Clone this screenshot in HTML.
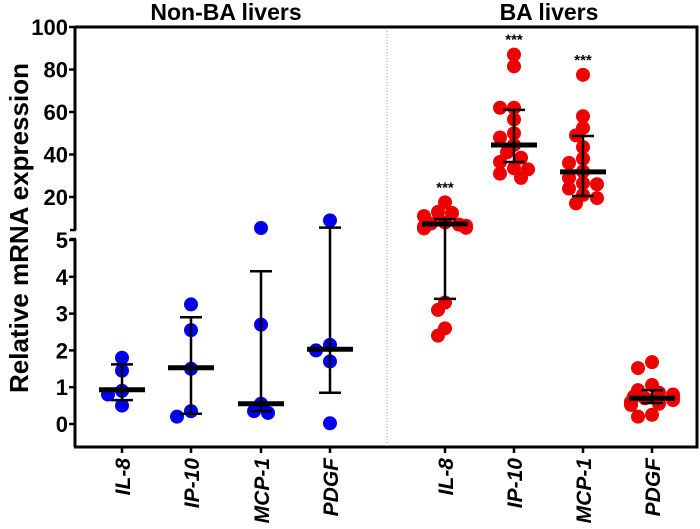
<!DOCTYPE html>
<html><head><meta charset="utf-8"><style>
body{margin:0;background:#fff;width:700px;height:524px;overflow:hidden}
svg text{font-family:"Liberation Sans",Arial,sans-serif;font-weight:bold}
</style></head><body>
<svg id="chart" width="700" height="524" xmlns="http://www.w3.org/2000/svg">
<g id="frame"></g>
<g id="marks"></g>
</svg>
<script>
const categories=["IL-8","IP-10","MCP-1","PDGF"];
const groupLabels=["Non-BA livers","BA livers"];
const nonBA=[[1.8,1.45,0.9,0.8,0.5],[3.25,2.55,1.5,0.2,0.35],[5.4,2.7,0.55,0.3,0.35],[9,2.0,2.15,1.7,0.02]];
const nonBAMedian=[0.93,1.53,0.55,2.03];
const nonBALow=[0.65,0.28,0.35,0.85];
const nonBAHigh=[1.62,2.9,4.15,5.6];
const ba=[[17.5,13,12.5,11,8,7.5,7,6.5,6,5.5,5.2,3.3,3.1,2.6,2.4],
[87,81.5,62,62,56.5,50,48,44.5,41,38.5,36.5,33.5,33,31,29],
[77.5,58,52.5,49,43.5,36,32,29,26.5,26,21,19.5,17,24,38],
[1.68,1.52,1.06,0.92,0.8,0.73,0.65,0.6,0.52,0.7,0.75,0.85,0.25,0.2,0.55]];
const baMedian=[7.3,44.5,31.8,0.7];
const baLow=[3.4,36.5,20.5,0.57];
const baHigh=[9.6,61,48.7,0.92];
const starsFor=[true,true,true,false];
const upperTicks=[100,80,60,40,20];
const lowerTicks=[5,4,3,2,1,0];
const xNon=[122,191,261,330], xBA=[445,514,583,652];
const NS="http://www.w3.org/2000/svg";
function y(v){ return v>=5 ? 27+(100-v)*2.125 : 424-v*36.8; }
function mk(parent,tag,attrs,txt){const e=document.createElementNS(NS,tag);for(const k in attrs)e.setAttribute(k,attrs[k]);if(txt!==undefined)e.textContent=txt;parent.appendChild(e);return e;}
const F=document.getElementById('frame'), M=document.getElementById('marks');
let e;
e=mk(F,'line',{x1:75,y1:27,x2:75,y2:230,stroke:'#000','stroke-width':3});


e=mk(F,'line',{x1:75,y1:239,x2:75,y2:447,stroke:'#000','stroke-width':3});


e=mk(F,'polyline',{points:'75,27 697,27 697,447 74,447',fill:'none',stroke:'#000','stroke-width':3});


e=mk(F,'line',{x1:387,y1:28,x2:387,y2:446,stroke:'#999','stroke-width':1,'stroke-dasharray':'1,2'});


mk(F,'line',{x1:70,y1:230,x2:76,y2:230,stroke:'#000','stroke-width':2.5});
mk(F,'line',{x1:70,y1:239,x2:76,y2:239,stroke:'#000','stroke-width':2.5});
upperTicks.concat(lowerTicks).forEach((t,i)=>{
  const yy = i<upperTicks.length ? 27+(100-t)*2.125 : 424-t*36.8;
  mk(F,'line',{x1:69,y1:yy,x2:75,y2:yy,stroke:'#000','stroke-width':2.5});
  e=mk(F,'text',{x:68,y:yy+8,'text-anchor':'end','font-size':22},t);
  
  
});
e=mk(F,'text',{x:0,y:0,'text-anchor':'middle','font-size':26,transform:'translate(28,228) rotate(-90)'},'Relative mRNA expression');


e=mk(F,'text',{x:226,y:20,'text-anchor':'middle','font-size':23},groupLabels[0]);


e=mk(F,'text',{x:549,y:20,'text-anchor':'middle','font-size':23},groupLabels[1]);


xNon.concat(xBA).forEach((x,i)=>{
  mk(F,'line',{x1:x,y1:447,x2:x,y2:453,stroke:'#000','stroke-width':2.5});
  e=mk(F,'text',{x:0,y:0,'text-anchor':'end','font-size':21,'font-style':'italic',transform:`translate(${x+8},458) rotate(-90)`},categories[i%4]);
  
  
});
function drawGroup(cx,vals,med,lo,hi,color,stars,name){
  const placed=[];
  vals.slice().sort((a,b)=>b-a).forEach(v=>{
    const yy=y(v); let off=0;
    const cands=[0,-7,7,-14,14,-21,21];
    let found=false;
    for(const c of cands){ if(placed.every(p=>Math.hypot(p[0]-c,p[1]-yy)>=10)){off=c;found=true;break;} }
    if(!found){off=(placed.length%2?1:-1)*Math.min(21,placed.length*3);}
    placed.push([off,yy]);
    const d=mk(M,'circle',{cx:cx+off,cy:yy,r:7,fill:color});
    
    
  });
  let l=mk(M,'line',{x1:cx,y1:y(lo),x2:cx,y2:y(hi),stroke:'#000','stroke-width':2.5});
  
  
  [lo,hi].forEach(v=>{mk(M,'line',{x1:cx-11,y1:y(v),x2:cx+11,y2:y(v),stroke:'#000','stroke-width':2.5});});
  l=mk(M,'line',{x1:cx-23,y1:y(med),x2:cx+23,y2:y(med),stroke:'#000','stroke-width':5});
  
  
  if(stars){
    const top=Math.max(...vals);
    const s=mk(M,'text',{x:cx,y:y(top)-10,'text-anchor':'middle','font-size':15,'font-weight':'normal'},'***');
    
    
  }
}
categories.forEach((c,i)=>{
  drawGroup(xNon[i],nonBA[i],nonBAMedian[i],nonBALow[i],nonBAHigh[i],'#0000ee',false,'non-ba-'+c.toLowerCase());
  drawGroup(xBA[i],ba[i],baMedian[i],baLow[i],baHigh[i],'#ee0000',starsFor[i],'ba-'+c.toLowerCase());
});
</script>
</body></html>
